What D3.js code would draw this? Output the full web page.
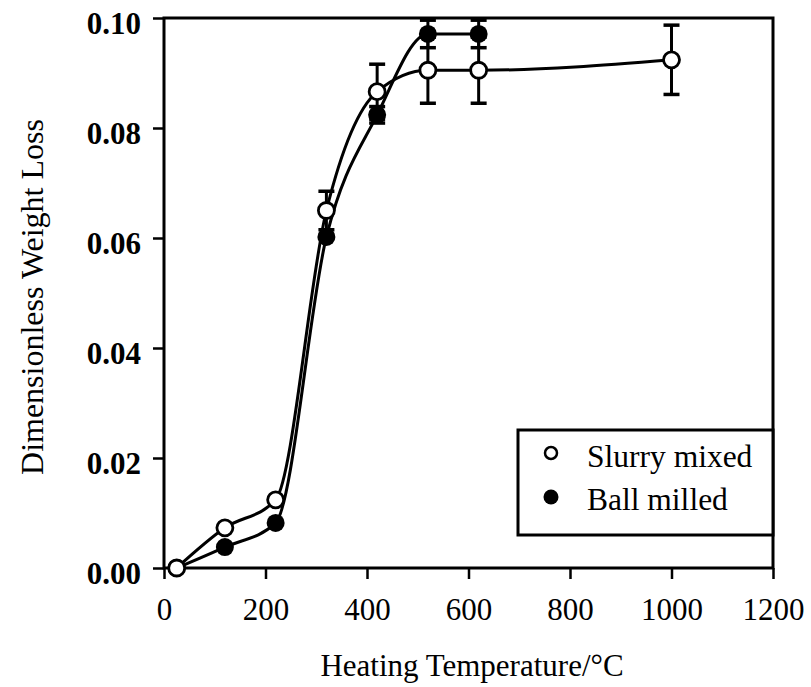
<!DOCTYPE html>
<html>
<head>
<meta charset="utf-8">
<script src="https://cdn.jsdelivr.net/npm/d3@7"></script>
<style>
  html, body { margin: 0; padding: 0; background: #fff; }
  svg { display: block; }
</style>
</head>
<body>
<svg id="chart" width="811" height="687"></svg>
<script>
// ---- data ----
const slurryTemp   = [25, 120, 220, 320, 420, 520, 620, 1000];
const slurryLoss   = [0.0000, 0.0073, 0.0124, 0.0650, 0.0866, 0.0905, 0.0905, 0.0924];
const slurryErr    = [0, 0, 0, 0.0035, 0.0050, 0.0060, 0.0060, 0.0063];

const ballTemp     = [25, 120, 220, 320, 420, 520, 620];
const ballLoss     = [0.0000, 0.0038, 0.0082, 0.0602, 0.0824, 0.0971, 0.0971];
const ballErr      = [0, 0, 0, 0, 0.0015, 0.0025, 0.0025];

const xTicks = [0, 200, 400, 600, 800, 1000, 1200];
const yTicks = [0.00, 0.02, 0.04, 0.06, 0.08, 0.10];

const legendLabels = ["Slurry mixed", "Ball milled"];
const xTitle = "Heating Temperature/°C";
const yTitle = "Dimensionless Weight Loss";

// ---- layout ----
const svg = d3.select("#chart");
const mL = 164, mR = 773, mT = 18, mB = 568;
const x = d3.scaleLinear().domain([0, 1200]).range([mL, mR]);
const y = d3.scaleLinear().domain([0, 0.10]).range([mB, mT]);
const font = '"Liberation Serif", "Times New Roman", serif';

// axes
const xAxis = svg.append("g").attr("transform", `translate(0,${mB})`)
  .call(d3.axisBottom(x).tickValues(xTicks).tickSize(11).tickSizeOuter(0).tickPadding(19).tickFormat(d3.format("d")));
const yAxis = svg.append("g").attr("transform", `translate(${mL},0)`)
  .call(d3.axisLeft(y).tickValues(yTicks).tickSize(11).tickSizeOuter(0).tickPadding(12).tickFormat(d3.format(".2f")));

[xAxis, yAxis].forEach(g => {
  g.attr("font-family", null).attr("font-size", null);
  g.select(".domain").remove();
  g.selectAll(".tick line").attr("stroke", "#000").attr("stroke-width", 2.5);
  g.selectAll(".tick text").attr("fill", "#000")
    .style("font-family", font).style("font-size", "31px").style("font-weight", "bold");
});
xAxis.selectAll(".tick text").attr("dy", "0.71em").style("font-weight", "normal");
yAxis.selectAll(".tick text").attr("dy", "0.5em");

// frame
svg.append("rect")
  .attr("x", mL).attr("y", mT)
  .attr("width", mR - mL).attr("height", mB - mT)
  .attr("fill", "none").attr("stroke", "#000").attr("stroke-width", 3);

// axis titles
svg.append("text")
  .attr("x", 472).attr("y", 676)
  .attr("text-anchor", "middle")
  .style("font-family", font).style("font-size", "31px")
  .text(xTitle);
svg.append("text")
  .attr("transform", `translate(43,${(117 + 477) / 2}) rotate(-90)`)
  .attr("text-anchor", "middle")
  .style("font-family", font).style("font-size", "32px")
  .text(yTitle);

// series
const slurry = slurryTemp.map((t, i) => ({ t, v: slurryLoss[i], e: slurryErr[i] }));
const ball = ballTemp.map((t, i) => ({ t, v: ballLoss[i], e: ballErr[i] }));

const line = d3.line().x(d => x(d.t)).y(d => y(d.v)).curve(d3.curveMonotoneX);

const plot = svg.append("g");
[slurry, ball].forEach(data => {
  plot.append("path").datum(data)
    .attr("d", line).attr("fill", "none")
    .attr("stroke", "#000").attr("stroke-width", 3);
});

// error bars
function errorBars(data) {
  const g = plot.append("g");
  const eb = data.filter(d => d.e > 0);
  g.selectAll("line.v").data(eb).join("line")
    .attr("x1", d => x(d.t)).attr("x2", d => x(d.t))
    .attr("y1", d => y(d.v - d.e)).attr("y2", d => y(d.v + d.e))
    .attr("stroke", "#000").attr("stroke-width", 3);
  [-1, 1].forEach(s => {
    g.append("g").selectAll("line").data(eb).join("line")
      .attr("x1", d => x(d.t) - 8).attr("x2", d => x(d.t) + 8)
      .attr("y1", d => y(d.v + s * d.e))
      .attr("y2", d => y(d.v + s * d.e))
      .attr("stroke", "#000").attr("stroke-width", 3.5);
  });
}
errorBars(slurry);
errorBars(ball);

// markers
plot.append("g").selectAll("circle").data(ball).join("circle")
  .attr("cx", d => x(d.t)).attr("cy", d => y(d.v)).attr("r", 9)
  .attr("fill", "#000");
plot.append("g").selectAll("circle").data(slurry).join("circle")
  .attr("cx", d => x(d.t)).attr("cy", d => y(d.v)).attr("r", 8)
  .attr("fill", "#fff").attr("stroke", "#000").attr("stroke-width", 2.8);

// legend
const lg = svg.append("g");
lg.append("rect")
  .attr("x", 518).attr("y", 430).attr("width", mR - 518).attr("height", 105)
  .attr("fill", "#fff").attr("stroke", "#000").attr("stroke-width", 3);
lg.append("circle").attr("cx", 551).attr("cy", 453).attr("r", 6)
  .attr("fill", "#fff").attr("stroke", "#000").attr("stroke-width", 2.5);
lg.append("circle").attr("cx", 551).attr("cy", 497).attr("r", 7.5).attr("fill", "#000");
lg.selectAll("text").data(legendLabels).join("text")
  .attr("x", 587).attr("y", (d, i) => 467 + i * 43)
  .style("font-family", font).style("font-size", "31.5px")
  .text(d => d);
</script>
</body>
</html>
